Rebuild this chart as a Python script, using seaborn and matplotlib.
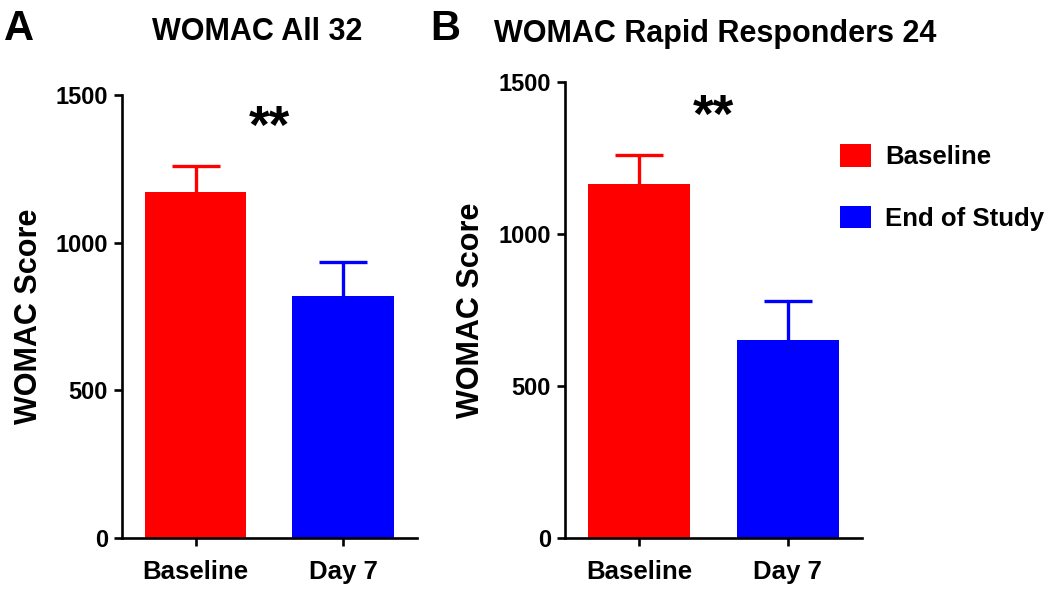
import pandas as pd
import numpy as np
import matplotlib
matplotlib.use("Agg")
import matplotlib.pyplot as plt
import seaborn as sns
from matplotlib.patches import Patch

# values
timepoints = ['Baseline', 'Day 7']
all32_mean = [1170, 818]
all32_err = [90, 117]
rapid24_mean = [1163, 652]
rapid24_err = [96, 129]
bar_colors = ['#FF0000', '#0000FF']
legend_labels = ['Baseline', 'End of Study']
panel_titles = ['WOMAC All 32', 'WOMAC Rapid Responders 24']
panel_letters = ['A', 'B']
y_ticks = [0, 500, 1000, 1500]

sns.set_style('ticks', {'axes.edgecolor': 'black', 'text.color': 'black',
                        'xtick.color': 'black', 'ytick.color': 'black',
                        'axes.labelcolor': 'black'})
plt.rcParams['font.family'] = ['Liberation Sans', 'DejaVu Sans']
plt.rcParams['font.weight'] = 'bold'


def draw_panel(ax, means, errs):
    df = pd.DataFrame({'time': timepoints, 'score': means})
    sns.barplot(data=df, x='time', y='score', hue='time', palette=bar_colors,
                width=0.69, legend=False, ax=ax, saturation=1, edgecolor='none')
    for i, (m, e) in enumerate(zip(means, errs)):
        _, caps, _ = ax.errorbar(i, m, yerr=[[0], [e]], fmt='none', ecolor=bar_colors[i],
                                 elinewidth=2.4, capsize=17, capthick=2.4)
        caps[0].set_visible(False)  # only the upper cap
    ax.set_xlim(-0.5, 1.5)
    ax.set_ylim(0, 1500)
    ax.set_yticks(y_ticks)
    ax.set_xlabel('')
    ax.set_ylabel('WOMAC Score', fontsize=22, fontweight='bold')
    ax.yaxis.set_label_coords(-0.265, 0.5)
    sns.despine(ax=ax)
    for s in ['left', 'bottom']:
        ax.spines[s].set_linewidth(1.9)
    ax.tick_params(axis='y', labelsize=17, width=1.9, length=6, pad=4)
    ax.tick_params(axis='x', labelsize=18.5, width=1.9, length=6, pad=10)
    for lab in ax.get_xticklabels() + ax.get_yticklabels():
        lab.set_fontweight('bold')
    ax.text(0.5, 1300, '**', ha='center', va='bottom', fontsize=38, fontweight='bold')


fig = plt.figure(figsize=(10.5, 5.9), dpi=100)
ax_a = fig.add_axes([0.116, 0.088, 0.281, 0.751])
ax_b = fig.add_axes([0.538, 0.088, 0.283, 0.773])
draw_panel(ax_a, all32_mean, all32_err)
draw_panel(ax_b, rapid24_mean, rapid24_err)

fig.text(0.004, 0.985, panel_letters[0], fontsize=30, fontweight='bold', va='top')
fig.text(0.41, 0.985, panel_letters[1], fontsize=30, fontweight='bold', va='top')
fig.text(0.245, 0.946, panel_titles[0], fontsize=22, fontweight='bold', ha='center', va='center')
fig.text(0.681, 0.942, panel_titles[1], fontsize=22, fontweight='bold', ha='center', va='center')

handles = [Patch(facecolor=c, edgecolor='none') for c in bar_colors]
fig.legend(handles, legend_labels, loc='upper left', bbox_to_anchor=(0.788, 0.777),
           frameon=False, handlelength=1.2, handleheight=0.95,
           handletextpad=0.55, labelspacing=1.42, borderpad=0,
           prop={'weight': 'bold', 'size': 18.5})

fig.savefig('out.png', dpi=100)
